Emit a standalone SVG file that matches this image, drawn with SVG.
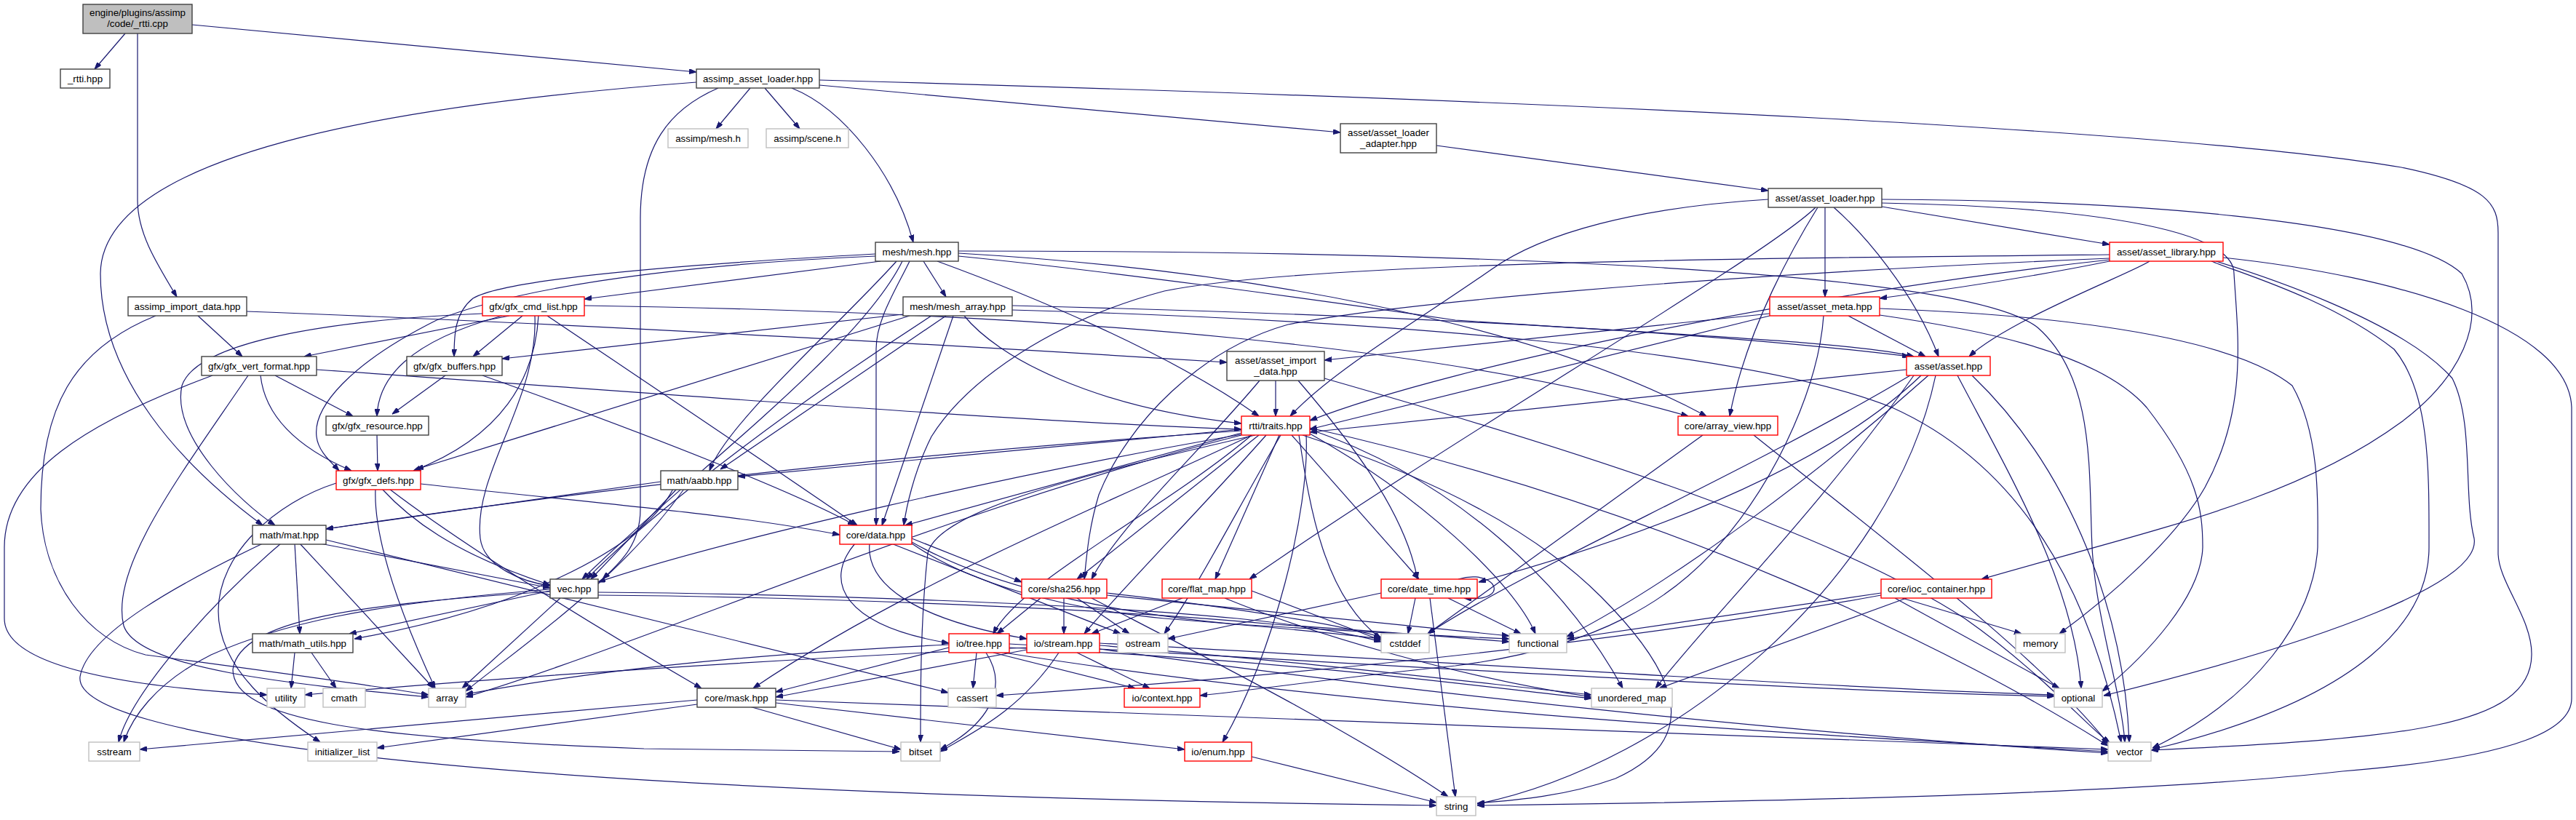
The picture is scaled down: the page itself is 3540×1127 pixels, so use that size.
<svg xmlns="http://www.w3.org/2000/svg" width="3540" height="1127" viewBox="0 0 3540 1127">
<style>
.e path{fill:none;stroke:#191970;stroke-width:1.2;marker-end:url(#a)}
.n rect{fill:#fff;stroke:#404040;stroke-width:1.4}
.r rect{stroke:#ff0000}
.x rect{stroke:#bfbfbf}
text{font-family:"Liberation Sans",Arial,sans-serif;font-size:13.33px;text-anchor:middle;fill:#000}
</style>
<defs>
<marker id="a" markerUnits="userSpaceOnUse" markerWidth="10" markerHeight="7" refX="10" refY="3.5" orient="auto"><path d="M0,0 L10,3.5 L0,7 z" fill="#191970" stroke="#191970" stroke-width="1"/></marker>
</defs>
<rect width="3540" height="1127" fill="#fff"/>
<g id="edges" class="e">
<path d="M172,46 L130,95"/>
<path d="M264,34 L957,99"/>
<path d="M189,46 L189,275 C189,320 214,360 243,408"/>
<path d="M1031,121 L984,177"/>
<path d="M1051,121 L1099,177"/>
<path d="M1088,121 C1160,150 1230,240 1255,333"/>
<path d="M1126,117 L1842,182"/>
<path d="M957,113 C600,140 140,200 138,376 C138,520 250,640 361,722"/>
<path d="M987,121 C920,150 880,200 880,300 L880,700 C880,750 850,775 828,796"/>
<path d="M1126,110 C2200,140 3000,180 3300,230 C3420,255 3433,280 3433,320 L3433,760 C3433,800 3480,850 3479,900 C3478,1000 3300,1015 2956,1031"/>
<path d="M1974,200 L2430,262"/>
<path d="M2586,284 L2899,336"/>
<path d="M2508,285 L2508,408"/>
<path d="M2430,274 C2250,285 2120,320 2050,370 C1950,440 1830,510 1773,572"/>
<path d="M2498,285 C2470,330 2400,450 2377,572"/>
<path d="M2520,285 C2560,320 2630,400 2664,490"/>
<path d="M2495,285 C2430,350 2000,600 1717,796"/>
<path d="M2586,274 C2900,275 3300,300 3383,376 C3420,440 3380,520 3300,580 C3150,690 2950,730 2723,796"/>
<path d="M2586,279 C2900,285 3070,320 3070,376 C3075,460 3090,560 3030,670 C2990,740 2900,820 2830,871"/>
<path d="M2954,359 C2930,375 2760,440 2706,490"/>
<path d="M2899,359 C2820,375 2700,395 2583,410"/>
<path d="M2899,350 C2400,355 1800,360 1600,400 C1450,440 1330,520 1280,600 C1255,650 1245,700 1242,722"/>
<path d="M2899,355 C2300,380 1900,420 1770,446 C1650,480 1550,580 1510,680 C1495,730 1493,770 1490,796"/>
<path d="M2899,357 C2500,400 2000,500 1800,578"/>
<path d="M3039,359 C3080,376 3200,410 3290,480 C3340,540 3338,650 3338,752 C3338,850 3250,960 2958,1030"/>
<path d="M3045,359 C3100,376 3300,440 3370,520 C3400,580 3385,680 3400,740 C3410,800 3200,880 2891,956"/>
<path d="M3055,354 C3300,380 3530,450 3534,560 L3534,960 C3534,1000 3470,1040 3219,1060 C3000,1085 2600,1100 2030,1107"/>
<path d="M1210,359 L803,411"/>
<path d="M1269,359 L1300,408"/>
<path d="M1203,349 C1000,360 700,380 650,410 C625,430 624,460 624,490"/>
<path d="M1203,352 C900,365 700,400 600,440 C480,500 430,560 435,600 C437,620 455,635 466,647"/>
<path d="M1240,359 C1180,480 950,650 800,796"/>
<path d="M1232,359 C1150,450 1000,580 975,647"/>
<path d="M1250,359 C1230,400 1204,440 1204,480 L1204,722"/>
<path d="M1288,359 C1400,400 1600,480 1730,572"/>
<path d="M1317,352 C1500,370 1800,410 2000,440 C2300,460 2550,470 2630,490"/>
<path d="M1317,348 C1700,370 2100,440 2345,572"/>
<path d="M1317,345 C2000,345 2700,370 2800,450 C2880,520 2870,650 2875,752 C2880,850 2915,950 2920,1020"/>
<path d="M700,434 L418,490"/>
<path d="M718,434 L650,490"/>
<path d="M690,434 C560,470 520,520 518,572"/>
<path d="M740,434 C735,520 690,600 568,647"/>
<path d="M663,431 C450,440 270,470 250,530 C235,600 330,690 378,722"/>
<path d="M735,434 C740,550 650,650 660,740 C665,780 720,800 756,805"/>
<path d="M752,434 C850,500 1000,600 1178,722"/>
<path d="M803,420 C1500,430 2000,480 2320,572"/>
<path d="M1241,432 L690,493"/>
<path d="M1250,434 L572,645"/>
<path d="M1300,434 L990,645"/>
<path d="M1310,434 L1212,722"/>
<path d="M1280,434 C1100,550 900,700 806,796"/>
<path d="M1325,434 C1370,490 1500,560 1706,582"/>
<path d="M1391,420 C1800,430 2300,450 2624,490"/>
<path d="M1391,426 C1900,440 2400,480 2600,560 C2800,650 2880,850 2915,1020"/>
<path d="M2432,431 L1820,495"/>
<path d="M2432,434 L1800,590"/>
<path d="M2540,434 L2646,490"/>
<path d="M2583,424 C2750,430 3050,450 3150,530 C3190,600 3185,700 3185,752 C3180,850 3100,960 2958,1028"/>
<path d="M2583,433 C2700,450 2880,480 2950,560 C3020,650 3027,700 3027,752 C3025,820 2950,900 2889,950"/>
<path d="M2506,434 C2500,520 2450,650 2360,752 C2300,820 2200,890 2000,915 C1850,930 1750,945 1649,956"/>
<path d="M2620,508 L1800,594"/>
<path d="M2640,516 C2500,650 2250,740 2032,800"/>
<path d="M2625,516 C2400,650 2100,780 1962,871"/>
<path d="M2650,516 C2500,650 2300,800 2153,875"/>
<path d="M2690,516 C2760,650 2850,800 2860,946"/>
<path d="M2710,516 C2850,650 2920,850 2926,1020"/>
<path d="M2660,516 C2600,800 2300,1050 2030,1105"/>
<path d="M2630,516 C2500,700 2350,850 2275,946"/>
<path d="M1753,523 L1753,572"/>
<path d="M1784,523 C1850,600 1930,700 1948,796"/>
<path d="M1731,523 C1650,620 1540,720 1500,796"/>
<path d="M1820,520 C2100,600 2500,720 2700,850 C2800,920 2860,990 2900,1022"/>
<path d="M272,434 L333,490"/>
<path d="M339,428 C800,445 1400,480 1686,498"/>
<path d="M214,434 C100,480 56,560 56,700 C60,800 120,880 200,900 C350,920 500,940 589,955"/>
<path d="M378,516 L485,572"/>
<path d="M358,516 C365,580 420,620 483,647"/>
<path d="M435,508 C900,540 1400,580 1706,590"/>
<path d="M292,516 C120,580 6,650 6,752 L6,850 C6,900 100,940 367,955"/>
<path d="M341,516 C250,650 150,780 170,860 C190,920 400,940 589,958"/>
<path d="M612,516 L539,569"/>
<path d="M663,516 C900,600 1100,680 1175,722"/>
<path d="M518,598 L519,647"/>
<path d="M578,665 C800,690 1000,705 1154,735"/>
<path d="M525,672 C560,710 620,760 756,804"/>
<path d="M516,672 C514,720 530,800 598,946"/>
<path d="M535,672 C650,760 850,880 964,946"/>
<path d="M462,664 C380,690 300,760 300,840 C300,920 380,980 440,1020"/>
<path d="M908,662 L448,727"/>
<path d="M930,672 L812,796"/>
<path d="M925,672 C880,760 700,840 487,878"/>
<path d="M940,672 C850,800 700,900 640,950"/>
<path d="M405,747 L412,871"/>
<path d="M440,747 L756,808"/>
<path d="M412,747 L596,946"/>
<path d="M386,747 C300,820 180,950 163,1020"/>
<path d="M361,747 C250,800 120,870 110,930 C100,1010 600,1090 1974,1107"/>
<path d="M448,742 C800,830 1100,900 1303,952"/>
<path d="M756,812 L480,871"/>
<path d="M756,810 C500,830 380,860 290,900 C210,940 180,990 170,1020"/>
<path d="M770,822 L635,946"/>
<path d="M756,813 C500,830 330,850 320,920 C320,990 500,1015 885,1029 L1236,1033"/>
<path d="M822,814 C1100,816 1500,830 1700,850 C1800,860 1860,872 1898,882"/>
<path d="M822,818 C1100,820 1500,835 1750,858 C1900,868 2000,876 2074,882"/>
<path d="M1253,740 L1404,800"/>
<path d="M1175,747 C1130,800 1160,860 1304,884"/>
<path d="M1195,747 C1190,800 1250,850 1411,878"/>
<path d="M1225,747 L1540,871"/>
<path d="M1253,747 C1330,800 1450,835 1600,850 C1750,862 1850,872 1898,878"/>
<path d="M1253,745 C1350,800 1500,840 1700,858 C1900,870 2000,875 2074,878"/>
<path d="M1706,592 C1300,620 900,660 448,727"/>
<path d="M1706,590 L1014,655"/>
<path d="M1706,595 L1244,722"/>
<path d="M1706,597 C1400,650 1000,740 822,800"/>
<path d="M1730,598 L1480,796"/>
<path d="M1758,598 L1670,796"/>
<path d="M1775,598 L1950,796"/>
<path d="M1720,598 C1600,700 1400,800 1365,871"/>
<path d="M1740,598 C1650,700 1550,800 1490,871"/>
<path d="M1760,598 C1700,700 1650,800 1600,871"/>
<path d="M1785,598 C1800,700 1820,820 1898,878"/>
<path d="M1800,596 C1950,680 2080,800 2110,871"/>
<path d="M1800,590 C2000,660 2150,800 2230,946"/>
<path d="M1800,588 C2300,700 2700,900 2897,1025"/>
<path d="M1790,598 C1950,650 2100,720 2200,820 C2320,940 2330,1020 2220,1070 C2150,1095 2080,1100 2030,1104"/>
<path d="M1706,598 C1300,700 900,880 640,958"/>
<path d="M1720,598 C1550,680 1250,800 1035,946"/>
<path d="M1725,598 C1500,650 1290,700 1275,760 C1265,850 1265,950 1265,1020"/>
<path d="M1795,598 C1800,700 1750,900 1680,1020"/>
<path d="M1430,822 L1370,871"/>
<path d="M1462,822 L1462,871"/>
<path d="M1480,822 L1552,871"/>
<path d="M1521,815 C1700,835 1850,860 1898,876"/>
<path d="M1521,818 C1800,845 2000,865 2074,874"/>
<path d="M1500,822 C1650,900 1850,1000 1990,1095"/>
<path d="M1625,822 L1500,871"/>
<path d="M1683,822 C1800,870 2000,930 2187,958"/>
<path d="M1720,812 L1898,880"/>
<path d="M1945,822 L1935,871"/>
<path d="M1990,822 L2090,871"/>
<path d="M1965,822 L2000,1095"/>
<path d="M2004,796 C2040,785 2062,805 2050,816 C2040,824 2025,823 2012,822"/>
<path d="M1898,815 L1605,878"/>
<path d="M2614,822 L2778,871"/>
<path d="M2604,822 L2830,946"/>
<path d="M2585,815 L2153,878"/>
<path d="M2620,822 L2280,946"/>
<path d="M2585,818 C2300,870 1900,920 1369,956"/>
<path d="M405,897 L400,946"/>
<path d="M428,897 L462,946"/>
<path d="M1342,897 L1337,946"/>
<path d="M1304,890 L1066,951"/>
<path d="M1365,897 L1560,946"/>
<path d="M1355,897 C1390,950 1350,1000 1292,1030"/>
<path d="M1304,886 C1000,900 800,925 640,954"/>
<path d="M1387,890 C1800,910 2000,940 2187,960"/>
<path d="M1387,885 C2000,920 2500,950 2823,957"/>
<path d="M1380,897 C1900,980 2500,1010 2897,1033"/>
<path d="M1480,897 L1580,946"/>
<path d="M1411,893 L1066,958"/>
<path d="M1455,897 C1400,980 1330,1010 1292,1033"/>
<path d="M1411,890 C1000,910 700,930 419,955"/>
<path d="M1511,887 C1800,910 2000,935 2187,955"/>
<path d="M1511,884 C2000,910 2500,945 2823,955"/>
<path d="M1511,892 C2000,960 2500,1010 2897,1035"/>
<path d="M1030,971 L1238,1030"/>
<path d="M1066,966 L1628,1030"/>
<path d="M1066,962 C1800,990 2500,1010 2897,1030"/>
<path d="M958,962 L192,1030"/>
<path d="M958,968 L518,1028"/>
<path d="M1720,1040 L1974,1103"/>
<path d="M2340,598 L1962,871"/>
<path d="M2410,598 C2600,750 2800,900 2897,1022"/>
</g>
<g id="root" class="n"><rect x="114" y="6" width="150" height="40" style="fill:#bfbfbf"/><text x="189" y="22">engine/plugins/assimp</text><text x="189" y="37">/code/_rtti.cpp</text></g>
<g id="rtti_hpp" class="n"><rect x="83" y="95" width="68" height="26"/><text x="117" y="112.5">_rtti.hpp</text></g>
<g id="assimp_asset_loader" class="n"><rect x="957" y="95" width="169" height="26"/><text x="1041.5" y="112.5">assimp_asset_loader.hpp</text></g>
<g id="assimp_mesh_h" class="n x"><rect x="918" y="177" width="110" height="26"/><text x="973" y="194.5">assimp/mesh.h</text></g>
<g id="assimp_scene_h" class="n x"><rect x="1053" y="177" width="113" height="26"/><text x="1109.5" y="194.5">assimp/scene.h</text></g>
<g id="asset_loader_adapter" class="n"><rect x="1842" y="170" width="132" height="40"/><text x="1908" y="186.5">asset/asset_loader</text><text x="1908" y="201.5">_adapter.hpp</text></g>
<g id="asset_loader" class="n"><rect x="2430" y="259" width="156" height="26"/><text x="2508" y="276.5">asset/asset_loader.hpp</text></g>
<g id="mesh" class="n"><rect x="1203" y="333" width="114" height="26"/><text x="1260" y="350.5">mesh/mesh.hpp</text></g>
<g id="asset_library" class="n r"><rect x="2899" y="333" width="156" height="26"/><text x="2977" y="350.5">asset/asset_library.hpp</text></g>
<g id="assimp_import_data" class="n"><rect x="176" y="408" width="163" height="26"/><text x="257.5" y="425.5">assimp_import_data.hpp</text></g>
<g id="gfx_cmd_list" class="n r"><rect x="663" y="408" width="140" height="26"/><text x="733" y="425.5">gfx/gfx_cmd_list.hpp</text></g>
<g id="mesh_array" class="n"><rect x="1241" y="408" width="150" height="26"/><text x="1316" y="425.5">mesh/mesh_array.hpp</text></g>
<g id="asset_meta" class="n r"><rect x="2432" y="408" width="151" height="26"/><text x="2507.5" y="425.5">asset/asset_meta.hpp</text></g>
<g id="asset_import_data" class="n"><rect x="1686" y="483" width="134" height="40"/><text x="1753" y="499.5">asset/asset_import</text><text x="1753" y="514.5">_data.hpp</text></g>
<g id="gfx_vert_format" class="n"><rect x="277" y="490" width="158" height="26"/><text x="356" y="507.5">gfx/gfx_vert_format.hpp</text></g>
<g id="gfx_buffers" class="n"><rect x="559" y="490" width="131" height="26"/><text x="624.5" y="507.5">gfx/gfx_buffers.hpp</text></g>
<g id="asset" class="n r"><rect x="2620" y="490" width="115" height="26"/><text x="2677.5" y="507.5">asset/asset.hpp</text></g>
<g id="gfx_resource" class="n"><rect x="448" y="572" width="141" height="26"/><text x="518.5" y="589.5">gfx/gfx_resource.hpp</text></g>
<g id="traits" class="n r"><rect x="1706" y="572" width="94" height="26"/><text x="1753" y="589.5">rtti/traits.hpp</text></g>
<g id="array_view" class="n r"><rect x="2306" y="572" width="137" height="26"/><text x="2374.5" y="589.5">core/array_view.hpp</text></g>
<g id="gfx_defs" class="n r"><rect x="462" y="647" width="116" height="26"/><text x="520" y="664.5">gfx/gfx_defs.hpp</text></g>
<g id="aabb" class="n"><rect x="908" y="647" width="106" height="26"/><text x="961" y="664.5">math/aabb.hpp</text></g>
<g id="mat" class="n"><rect x="347" y="722" width="101" height="26"/><text x="397.5" y="739.5">math/mat.hpp</text></g>
<g id="data" class="n r"><rect x="1154" y="722" width="99" height="26"/><text x="1203.5" y="739.5">core/data.hpp</text></g>
<g id="vec" class="n"><rect x="756" y="796" width="66" height="26"/><text x="789" y="813.5">vec.hpp</text></g>
<g id="sha256" class="n r"><rect x="1404" y="796" width="117" height="26"/><text x="1462.5" y="813.5">core/sha256.hpp</text></g>
<g id="flat_map" class="n r"><rect x="1597" y="796" width="123" height="26"/><text x="1658.5" y="813.5">core/flat_map.hpp</text></g>
<g id="date_time" class="n r"><rect x="1898" y="796" width="132" height="26"/><text x="1964" y="813.5">core/date_time.hpp</text></g>
<g id="ioc_container" class="n r"><rect x="2585" y="796" width="152" height="26"/><text x="2661" y="813.5">core/ioc_container.hpp</text></g>
<g id="math_utils" class="n"><rect x="347" y="871" width="138" height="26"/><text x="416" y="888.5">math/math_utils.hpp</text></g>
<g id="tree" class="n r"><rect x="1304" y="871" width="83" height="26"/><text x="1345.5" y="888.5">io/tree.hpp</text></g>
<g id="stream" class="n r"><rect x="1411" y="871" width="100" height="26"/><text x="1461" y="888.5">io/stream.hpp</text></g>
<g id="ostream" class="n x"><rect x="1536" y="871" width="69" height="26"/><text x="1570.5" y="888.5">ostream</text></g>
<g id="cstddef" class="n x"><rect x="1898" y="871" width="66" height="26"/><text x="1931" y="888.5">cstddef</text></g>
<g id="functional" class="n x"><rect x="2074" y="871" width="79" height="26"/><text x="2113.5" y="888.5">functional</text></g>
<g id="memory" class="n x"><rect x="2770" y="871" width="68" height="26"/><text x="2804" y="888.5">memory</text></g>
<g id="utility" class="n x"><rect x="367" y="946" width="52" height="26"/><text x="393" y="963.5">utility</text></g>
<g id="cmath" class="n x"><rect x="444" y="946" width="58" height="26"/><text x="473" y="963.5">cmath</text></g>
<g id="array" class="n x"><rect x="589" y="946" width="51" height="26"/><text x="614.5" y="963.5">array</text></g>
<g id="mask" class="n"><rect x="958" y="946" width="108" height="26"/><text x="1012" y="963.5">core/mask.hpp</text></g>
<g id="cassert" class="n x"><rect x="1303" y="946" width="66" height="26"/><text x="1336" y="963.5">cassert</text></g>
<g id="context" class="n r"><rect x="1545" y="946" width="104" height="26"/><text x="1597" y="963.5">io/context.hpp</text></g>
<g id="unordered_map" class="n x"><rect x="2187" y="946" width="111" height="26"/><text x="2242.5" y="963.5">unordered_map</text></g>
<g id="optional" class="n x"><rect x="2823" y="946" width="66" height="26"/><text x="2856" y="963.5">optional</text></g>
<g id="sstream" class="n x"><rect x="122" y="1020" width="70" height="26"/><text x="157" y="1037.5">sstream</text></g>
<g id="initializer_list" class="n x"><rect x="423" y="1020" width="95" height="26"/><text x="470.5" y="1037.5">initializer_list</text></g>
<g id="bitset" class="n x"><rect x="1238" y="1020" width="54" height="26"/><text x="1265" y="1037.5">bitset</text></g>
<g id="enum" class="n r"><rect x="1628" y="1020" width="92" height="26"/><text x="1674" y="1037.5">io/enum.hpp</text></g>
<g id="vector" class="n x"><rect x="2897" y="1020" width="59" height="26"/><text x="2926.5" y="1037.5">vector</text></g>
<g id="string" class="n x"><rect x="1974" y="1095" width="54" height="26"/><text x="2001" y="1112.5">string</text></g>
</svg>
